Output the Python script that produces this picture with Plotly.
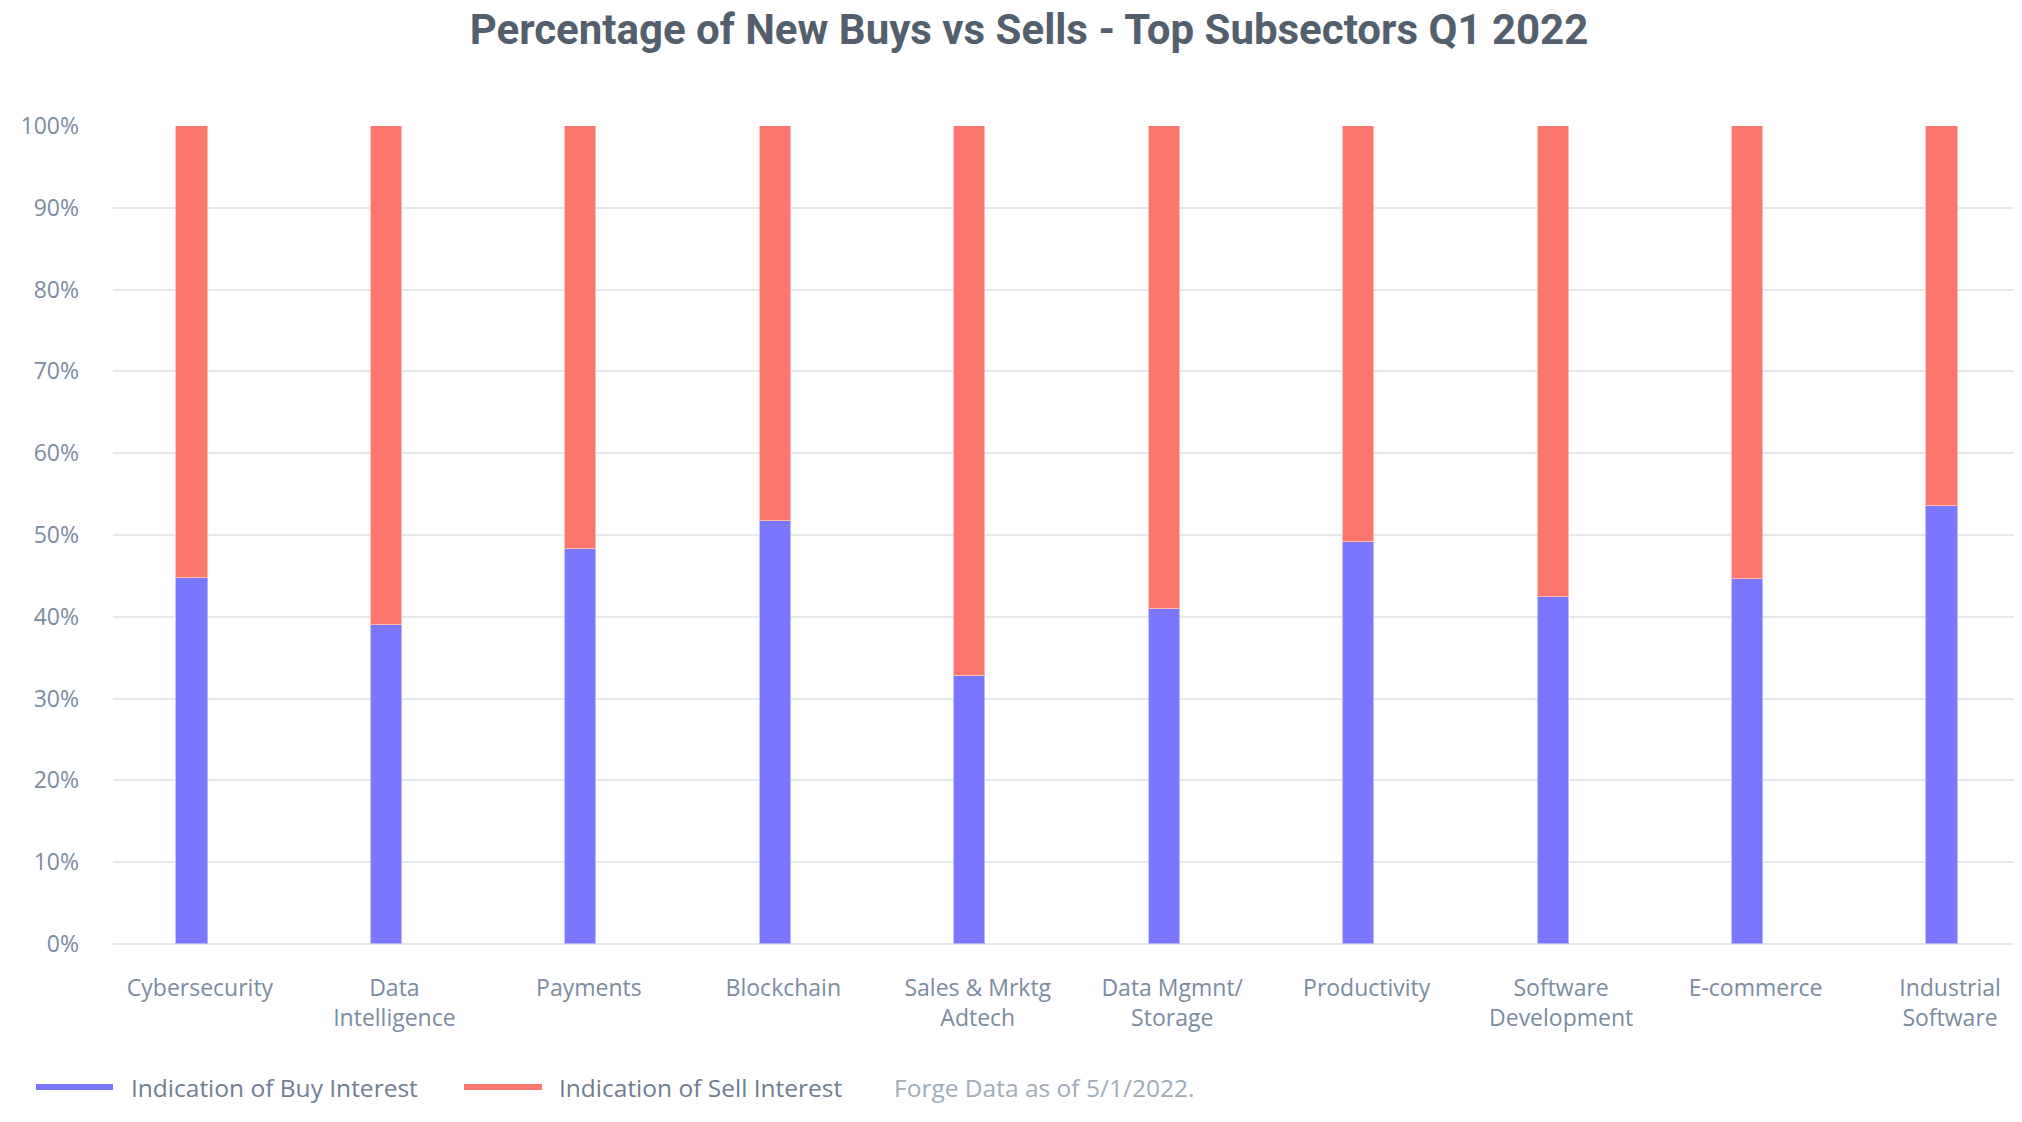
import plotly.graph_objects as go

categories = ["Cybersecurity", "Data<br>Intelligence", "Payments", "Blockchain",
              "Sales & Mrktg<br>Adtech", "Data Mgmnt/<br>Storage", "Productivity",
              "Software<br>Development", "E-commerce", "Industrial<br>Software"]
buy_pct = [44.7, 39.0, 48.3, 51.7, 32.8, 41.0, 49.1, 42.4, 44.6, 53.6]
sell_pct = [round(100 - v, 1) for v in buy_pct]
y_ticks = [0, 10, 20, 30, 40, 50, 60, 70, 80, 90, 100]
y_ticktext = [f"{v}%" for v in y_ticks]

BUY = "#7a76ff"
SELL = "#fb776d"
OFF = 8                      # default page margin of the html body
W, H = 2022 - 2 * OFF, 1122 - 2 * OFF
ML, MT, MB, MR = 113 - OFF, 126 - OFF, 1122 - 944 - OFF, 0
PW, PH = W - ML - MR, H - MT - MB


def sx(x):  # screen x -> paper x
    return (x - OFF - ML) / PW


def sy(y):  # screen y -> paper y
    return (H - MB - (y - OFF)) / PH


fig = go.Figure()
fig.add_trace(go.Bar(x=categories, y=buy_pct, name="Indication of Buy Interest",
                     marker=dict(color=BUY, line=dict(color="rgba(190,188,255,0.9)", width=1)),
                     width=0.16, showlegend=False))
fig.add_trace(go.Bar(x=categories, y=sell_pct, name="Indication of Sell Interest",
                     marker=dict(color=SELL, line=dict(color="rgba(255,190,185,0.9)", width=1)),
                     width=0.16, showlegend=False))

fig.update_layout(
    barmode="stack",
    width=W, height=H,
    margin=dict(l=ML, r=MR, t=MT, b=MB),
    paper_bgcolor="white", plot_bgcolor="white",
    title=dict(text="Percentage of New Buys vs Sells - Top Subsectors Q1 2022",
               x=(1029 - OFF) / W, xref="container", xanchor="center",
               y=1 - (29 - OFF) / H, yref="container", yanchor="middle",
               font=dict(family="Roboto", size=42, color="#535f6d", weight=700)),
    xaxis=dict(range=[-0.406, 9.37], showgrid=False, showline=False, zeroline=False,
               ticks="", ticklabelshift=8, ticklabelstandoff=28,
               tickfont=dict(family="Open Sans", size=23, color="#7b8ca0")),
    yaxis=dict(range=[0, 100], tickvals=y_ticks, ticktext=y_ticktext,
               showgrid=True, gridcolor="#e5e9ee", gridwidth=2,
               zeroline=True, zerolinecolor="#e5e9ee", zerolinewidth=2,
               showline=False, ticks="", ticklabelstandoff=33,
               tickfont=dict(family="Open Sans", size=23, color="#7b8ca0")),
    bargap=0,
)

# legend drawn as line swatches + labels (screen coordinates)
LEG_Y = 1087
legend_items = [
    (36, 113, BUY, 129, "Indication of Buy Interest"),
    (464, 542, SELL, 557, "Indication of Sell Interest"),
]
for x0, x1, col, tx, label in legend_items:
    fig.add_shape(type="line", xref="paper", yref="paper",
                  x0=sx(x0), x1=sx(x1), y0=sy(LEG_Y), y1=sy(LEG_Y),
                  line=dict(color=col, width=6))
    fig.add_annotation(text=label, xref="paper", yref="paper",
                       x=sx(tx), y=sy(LEG_Y), xanchor="left", yanchor="middle",
                       showarrow=False,
                       font=dict(family="Open Sans", size=24.5, color="#6f7e91"))
fig.add_annotation(text="Forge Data as of 5/1/2022.", xref="paper", yref="paper",
                   x=sx(892), y=sy(LEG_Y), xanchor="left", yanchor="middle",
                   showarrow=False,
                   font=dict(family="Open Sans", size=24.5, color="#a0abb8"))

fig.write_html("out.html")
